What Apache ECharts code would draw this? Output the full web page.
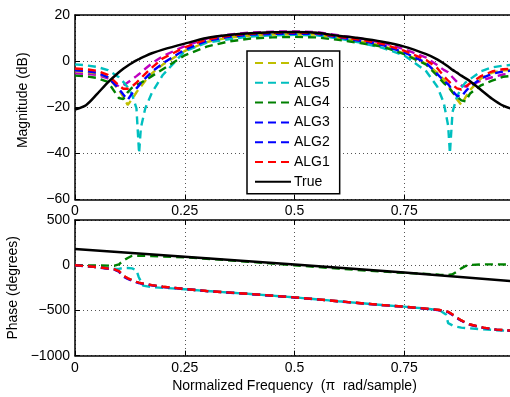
<!DOCTYPE html>
<html><head><meta charset="utf-8">
<script src="https://cdn.jsdelivr.net/npm/echarts@6/dist/echarts.min.js"></script>
<style>html,body{margin:0;padding:0;background:#fff}#c{width:510px;height:397px}</style>
</head><body><div id="c"></div>
<script>
// ---------- data ----------
const xTickLabels = ['0', '0.25', '0.5', '0.75', '1'];
const magTicks = [-60, -40, -20, 0, 20];
const phaseTicks = [-1000, -500, 0, 500];

const freqMag = [0, 0.025, 0.05, 0.075, 0.1, 0.11, 0.12, 0.13, 0.14, 0.146, 0.15, 0.16, 0.175, 0.2, 0.25, 0.3, 0.35, 0.4, 0.45, 0.5,
  0.55, 0.6, 0.65, 0.7, 0.75, 0.8, 0.825, 0.84, 0.85, 0.854, 0.86, 0.87, 0.88, 0.89, 0.9, 0.925, 0.95, 0.975, 1.0];

const magTrue = [-21, -19.1, -14.3, -9.2, -4.8, -3.3, -2, -0.8, 0.3, 0.9, 1.3, 2.2, 3.4, 5, 7.6, 10, 11.3, 12.1, 12.5, 12.6,
  12.3, 11, 9.9, 8.4, 6.3, 3, 0.8, -1, -2.3, -2.9, -3.8, -5, -6.3, -7.5, -8.7, -12.5, -16.3, -19.3, -21];
const magALG1 = [-3.2, -3.5, -4.2, -6, -10.5, -12, -12, -11, -9.3, -8.2, -7.5, -5.5, -2.8, 1.2, 6, 9.4, 11, 11.9, 12.3, 12.4,
  12.2, 10.6, 9.3, 7.5, 4.5, 0.5, -3, -6.5, -8.5, -9.3, -10.3, -11.8, -12.3, -11, -9.6, -6.5, -4.5, -3.5, -3.2];
const magALG2 = [-5.3, -5.5, -6, -7.5, -11, -10.5, -9.3, -7.9, -6.5, -5.6, -5, -3.3, -1, 2.2, 6.5, 9.8, 11.5, 12.4, 12.8, 12.9,
  12.6, 11.2, 9.8, 8, 5.2, 1.5, -1.7, -3.8, -4.8, -5.5, -7, -9, -10.5, -11, -10.5, -8.5, -7, -5.8, -5.3];
const magALG3 = [-4, -4.3, -5, -7, -12, -14.5, -16.8, -14, -11.8, -10.5, -9.5, -7.5, -4.6, -1, 5, 8.8, 10.5, 11.5, 11.8, 11.9,
  11.8, 10.3, 8.8, 7, 3.8, -0.8, -5.5, -8.5, -10, -11, -13, -15, -15.5, -13, -11, -7.5, -5.5, -4.5, -4];
const magALG4 = [-6.3, -6.6, -7.3, -9, -16, -16.5, -13.5, -11.5, -10.3, -9.8, -9.3, -8.3, -6.5, -3.5, 2.5, 6.3, 8.5, 9.8, 10.3, 10.5,
  10.3, 9.2, 7.8, 6.3, 3, -1.5, -6.3, -9.5, -11, -12, -13.5, -15.5, -17, -17.5, -14, -10.5, -8.5, -6.8, -6.3];
const magALG5 = [-1.4, -1.8, -2.5, -3.9, -7, -9, -11.3, -14.5, -20.5, -40, -29, -20.5, -13.8, -6, 4.3, 8, 9.5, 10.7, 11.2, 11.4,
  11.2, 9.8, 8, 5.8, 2.5, -4.4, -11, -18, -28, -40, -22, -15.5, -11.5, -9.2, -7.8, -4.4, -2.7, -2, -1.5];
const magALGm = [-4.3, -4.6, -5.3, -7, -12.5, -15.5, -19, -16.5, -13.5, -12, -11, -8.5, -5.3, -1.5, 4.4, 8.3, 10.2, 11.1, 11.5, 11.6,
  11.5, 10, 8.5, 6.7, 3.3, -1.2, -5, -8, -10.5, -12, -13.5, -16.5, -19, -15.5, -12.5, -7.5, -5, -4, -3.8];

const freqPhase = [0, 0.05, 0.09, 0.1, 0.11, 0.12, 0.13, 0.14, 0.145, 0.155, 0.175, 0.2, 0.25, 0.3, 0.4, 0.5, 0.6, 0.7, 0.75, 0.8,
  0.83, 0.845, 0.85, 0.86, 0.87, 0.88, 0.89, 0.9, 0.93, 0.96, 1.0];
const phALG1 = [0, -20, -45, -65, -115, -145, -165, -185, -192, -203, -220, -238, -262, -285, -318, -355, -398, -440, -458, -480,
  -495, -510, -515, -545, -580, -610, -635, -655, -690, -712, -725];
const phALG2 = [0, -20, -45, -65, -115, -145, -165, -185, -192, -203, -220, -238, -262, -285, -318, -355, -398, -440, -458, -480,
  -495, -510, -515, -545, -580, -610, -635, -655, -690, -712, -725];
const phALG3 = [0, -22, -48, -72, -125, -152, -172, -190, -196, -206, -222, -240, -263, -286, -319, -356, -399, -441, -459, -482,
  -497, -513, -519, -550, -585, -614, -638, -658, -692, -713, -726];
const phALG4 = [0, -3, -5, 10, 50, 80, 105, 105, 105, 104, 102, 96, 87, 72, 37, 0, -38, -70, -85, -95,
  -105, -108, -108, -100, -70, -35, -8, 3, 10, 10, 8];
const phALG5 = [0, -20, -40, -40, -30, -30, -35, -55, -130, -225, -242, -250, -265, -285, -318, -355, -398, -440, -458, -480,
  -495, -545, -640, -665, -680, -690, -695, -698, -708, -718, -728];
const phALGm = [0, -20, -45, -65, -115, -145, -165, -185, -192, -203, -220, -238, -262, -285, -318, -355, -398, -440, -458, -480,
  -495, -510, -515, -545, -580, -610, -635, -655, -690, -712, -725];
const freqTruePhase = [0, 0.25, 0.5, 0.75, 1.0];
const phTrue = [180, 93, 8, -80, -178];

// ---------- chart ----------
const FONT = '"Liberation Sans", Arial, Helvetica, sans-serif';
const pair = (f, v) => f.map((x, i) => [x, v[i]]);
const minus = v => String(v).replace('-', '\u2212');
const xFmt = v => xTickLabels[Math.round(v / 0.25)] ?? '';

const dash = [8, 5];
const seriesDefs = [
  { name: 'ALGm', color: '#bfbf00', mag: magALGm, ph: phALGm },
  { name: 'ALG5', color: '#00bfbf', mag: magALG5, ph: phALG5 },
  { name: 'ALG4', color: '#008000', mag: magALG4, ph: phALG4 },
  { name: 'ALG3', color: '#0000ff', mag: magALG3, ph: phALG3 },
  { name: 'ALG2', color: '#bf00bf', mag: magALG2, ph: phALG2 },
  { name: 'ALG1', color: '#ff0000', mag: magALG1, ph: phALG1 },
];

const series = [];
const order = ['ALG2', 'ALGm', 'ALG5', 'ALG4', 'ALG3', 'ALG1'];
order.forEach(n => {
  const d = seriesDefs.find(s => s.name === n);
  series.push({ name: d.name, type: 'line', xAxisIndex: 0, yAxisIndex: 0, data: pair(freqMag, d.mag),
    showSymbol: false, symbol: 'none', smooth: false, color: d.color,
    lineStyle: { color: d.color, width: 2.4, type: dash } });
});
order.forEach(n => {
  const d = seriesDefs.find(s => s.name === n);
  series.push({ name: d.name, type: 'line', xAxisIndex: 2, yAxisIndex: 1, data: pair(freqPhase, d.ph),
    showSymbol: false, symbol: 'none', smooth: false, color: d.color,
    lineStyle: { color: d.color, width: 2.4, type: dash } });
});
series.push({ name: 'True', type: 'line', xAxisIndex: 0, yAxisIndex: 0, data: pair(freqMag, magTrue),
  showSymbol: false, symbol: 'none', smooth: 0.25, color: '#000', lineStyle: { color: '#000', width: 2.5 } });
series.push({ name: 'True', type: 'line', xAxisIndex: 2, yAxisIndex: 1, data: pair(freqTruePhase, phTrue),
  showSymbol: false, symbol: 'none', color: '#000', lineStyle: { color: '#000', width: 2.5 } });

const axisLine = { show: true, onZero: false, lineStyle: { color: '#000', width: 1.5 } };
const tick = { show: true, inside: true, length: 5, lineStyle: { color: '#000', width: 1 } };
const split = { show: true, lineStyle: { color: '#555', width: 1, type: [1, 3] } };
const lbl = { color: '#000', fontSize: 14, fontFamily: FONT };

function xBottom(grid, withName) {
  const a = { type: 'value', gridIndex: grid, position: 'bottom', min: 0, max: 1, interval: 0.25,
    axisLine, axisTick: tick, splitLine: split,
    axisLabel: Object.assign({ margin: 5, formatter: xFmt, showMaxLabel: true }, lbl) };
  if (withName) {
    a.name = 'Normalized Frequency  (\u03c0  rad/sample)';
    a.nameLocation = 'middle'; a.nameGap = 23;
    a.nameTextStyle = Object.assign({}, lbl);
  }
  return a;
}
function xTop(grid) {
  return { type: 'value', gridIndex: grid, position: 'top', min: 0, max: 1, interval: 0.25,
    axisLine, axisTick: tick, splitLine: { show: false }, axisLabel: { show: false } };
}

const legendData = ['ALGm', 'ALG5', 'ALG4', 'ALG3', { name: 'ALG2', lineStyle: { color: '#0000ff' } }, 'ALG1', 'True'];

const option = {
  animation: false,
  backgroundColor: '#fff',
  textStyle: { fontFamily: FONT },
  grid: [
    { left: 75, top: 15, width: 439, height: 184.5, containLabel: false, outerBoundsMode: 'none' },
    { left: 75, top: 220, width: 439, height: 135.7, containLabel: false, outerBoundsMode: 'none' }
  ],
  xAxis: [xBottom(0, false), xTop(0), xBottom(1, true), xTop(1)],
  yAxis: [
    { type: 'value', gridIndex: 0, min: magTicks[0], max: magTicks[magTicks.length - 1], interval: 20,
      axisLine, axisTick: tick, splitLine: split,
      axisLabel: Object.assign({ margin: 5, formatter: minus }, lbl),
      name: 'Magnitude (dB)', nameLocation: 'middle', nameGap: 45,
      nameTextStyle: Object.assign({ padding: [0, 0, 0, 14] }, lbl) },
    { type: 'value', gridIndex: 1, min: phaseTicks[0], max: phaseTicks[phaseTicks.length - 1], interval: 500,
      axisLine, axisTick: tick, splitLine: split,
      axisLabel: Object.assign({ margin: 5, formatter: minus }, lbl),
      name: 'Phase (degrees)', nameLocation: 'middle', nameGap: 45, nameTextStyle: Object.assign({}, lbl) }
  ],
  legend: {
    data: legendData, orient: 'vertical', left: 247, top: 51,
    itemWidth: 36, itemHeight: 14, itemGap: 5.8,
    padding: [5, 6, 5, 7], backgroundColor: '#fff', borderColor: '#000', borderWidth: 1.5, borderRadius: 0,
    selectedMode: false,
    itemStyle: { opacity: 0, borderWidth: 0 },
    textStyle: { color: '#000', fontSize: 14, fontFamily: FONT, padding: [0, 0, 0, -2] }
  },
  series
};
const chart = echarts.init(document.getElementById('c'), null, { renderer: 'canvas' });
chart.setOption(option);
</script></body></html>
